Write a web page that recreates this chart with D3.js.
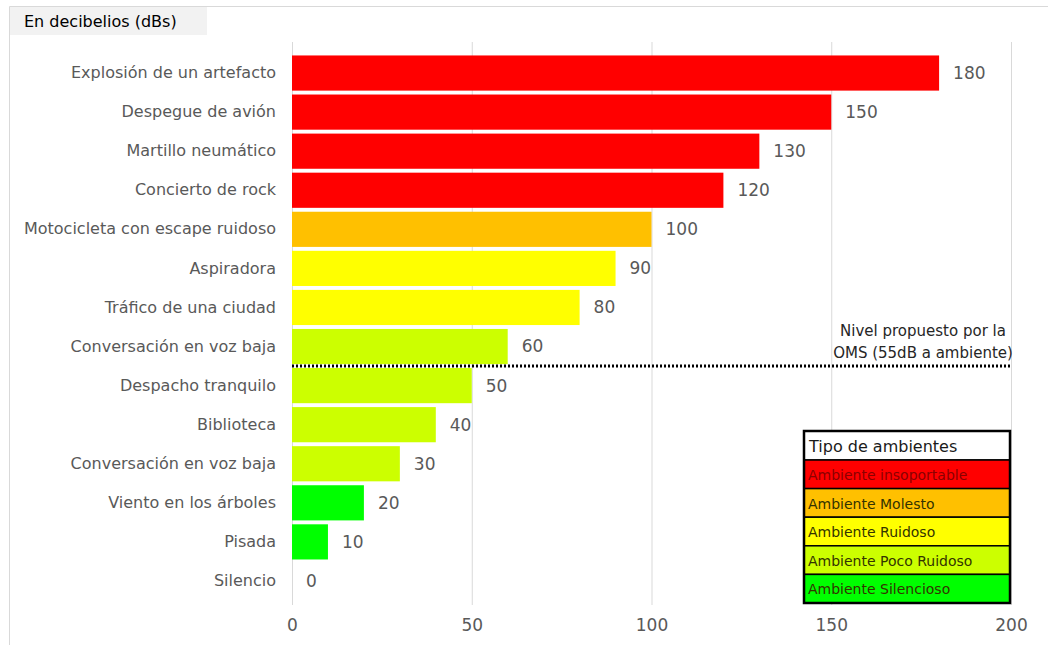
<!DOCTYPE html>
<html>
<head>
<meta charset="utf-8">
<script src="https://cdn.jsdelivr.net/npm/d3@7"></script>
<style>
  body { margin: 0; background: #fff; }
  svg { font-family: "DejaVu Sans", sans-serif; }
</style>
</head>
<body>
<div id="chart"></div>
<script>
// data
const categories = [
  "Explosión de un artefacto", "Despegue de avión", "Martillo neumático", "Concierto de rock",
  "Motocicleta con escape ruidoso", "Aspiradora", "Tráfico de una ciudad", "Conversación en voz baja",
  "Despacho tranquilo", "Biblioteca", "Conversación en voz baja", "Viento en los árboles",
  "Pisada", "Silencio"
];
const values = [180, 150, 130, 120, 100, 90, 80, 60, 50, 40, 30, 20, 10, 0];
const levels = [0, 0, 0, 0, 1, 2, 2, 3, 3, 3, 3, 4, 4, 4];
const levelNames = ["Ambiente insoportable", "Ambiente Molesto", "Ambiente Ruidoso", "Ambiente Poco Ruidoso", "Ambiente Silencioso"];
const levelColors = ["#ff0000", "#ffc000", "#ffff00", "#ccff00", "#00ff00"];
const xTicks = [0, 50, 100, 150, 200];
const whoLevel = 55;

const W = 1048, H = 650;
const svg = d3.select("#chart").append("svg").attr("width", W).attr("height", H);

// frame + title tab
svg.append("path").attr("d", "M9.5,645 V6.5 H1048").attr("fill", "none").attr("stroke", "#d9d9d9");
svg.append("rect").attr("x", 10).attr("y", 7).attr("width", 197).attr("height", 28).attr("fill", "#f2f2f2");
svg.append("text").attr("x", 24).attr("y", 27).attr("font-size", 16).attr("fill", "#000")
  .text("En decibelios (dBs)");

const x = d3.scaleLinear().domain([0, 200]).range([292, 1011]);
const y = d3.scaleBand().domain(d3.range(categories.length)).range([53.5, 600.5]).paddingInner(0.1).paddingOuter(0.05);

// gridlines
svg.append("g").selectAll("line").data(xTicks).join("line")
  .attr("x1", d => x(d) + 0.5).attr("x2", d => x(d) + 0.5)
  .attr("y1", 42).attr("y2", 605)
  .attr("stroke", "#d9d9d9");

// x axis labels
const xAxis = d3.axisBottom(x).tickValues(xTicks).tickSize(0).tickPadding(0);
const gx = svg.append("g").attr("transform", "translate(0,619)").call(xAxis);
gx.select(".domain").remove();
gx.selectAll("text").attr("font-size", 17).attr("fill", "#595959").attr("font-family", "DejaVu Sans, sans-serif");

// bars
svg.append("g").selectAll("rect").data(values).join("rect")
  .attr("x", x(0)).attr("y", (d, i) => y(i))
  .attr("width", d => x(d) - x(0)).attr("height", y.bandwidth())
  .attr("fill", (d, i) => levelColors[levels[i]]);

// category labels
const yAxis = d3.axisLeft(y).tickFormat(i => categories[i]).tickSize(0).tickPadding(16);
const gy = svg.append("g").attr("transform", `translate(${x(0)},0)`).call(yAxis);
gy.select(".domain").remove();
gy.selectAll("text").attr("font-size", 16).attr("fill", "#595959").attr("font-family", "DejaVu Sans, sans-serif");

// value labels
svg.append("g").selectAll("text").data(values).join("text")
  .attr("x", d => x(d) + 14).attr("y", (d, i) => y(i) + y.bandwidth() / 2)
  .attr("dy", "0.35em").attr("font-size", 17).attr("fill", "#595959").text(d => d);

// WHO line between the 60 and 50 bars
const iWho = values.findIndex(v => v < whoLevel);
const yWho = y(iWho) - y.step() * y.paddingInner() / 2;
svg.append("line").attr("x1", x(0)).attr("x2", x(200)).attr("y1", yWho).attr("y2", yWho)
  .attr("stroke", "#000").attr("stroke-width", 3).attr("stroke-dasharray", "2,2");
svg.append("text").attr("x", 923).attr("y", yWho - 30).attr("text-anchor", "middle")
  .attr("font-size", 15).attr("fill", "#262626").text("Nivel propuesto por la");
svg.append("text").attr("x", 923).attr("y", yWho - 8).attr("text-anchor", "middle")
  .attr("font-size", 15).attr("fill", "#262626").text("OMS (55dB a ambiente)");

// legend box
const lg = svg.append("g").attr("transform", "translate(804,431)");
const rowH = 28.6;
lg.append("rect").attr("x", 0).attr("y", 0).attr("width", 206).attr("height", 29).attr("fill", "#fff")
  .attr("stroke", "#000").attr("stroke-width", 1.5);
lg.append("text").attr("x", 5).attr("y", 21).attr("font-size", 16).attr("fill", "#1a1a1a")
  .text("Tipo de ambientes");
const rows = lg.selectAll("g.row").data(levelNames).join("g").attr("class", "row")
  .attr("transform", (d, i) => `translate(0,${29 + i * rowH})`);
rows.append("rect").attr("width", 206).attr("height", rowH)
  .attr("fill", (d, i) => levelColors[i]).attr("stroke", "#000").attr("stroke-width", 1.5);
rows.append("text").attr("x", 4).attr("y", 20).attr("font-size", 14)
  .attr("fill", (d, i) => i === 0 ? "#8b0000" : "#333300").text(d => d);
lg.append("rect").attr("x", 0).attr("y", 0).attr("width", 206).attr("height", 29 + 5 * rowH)
  .attr("fill", "none").attr("stroke", "#000").attr("stroke-width", 2.5);
</script>
</body>
</html>
